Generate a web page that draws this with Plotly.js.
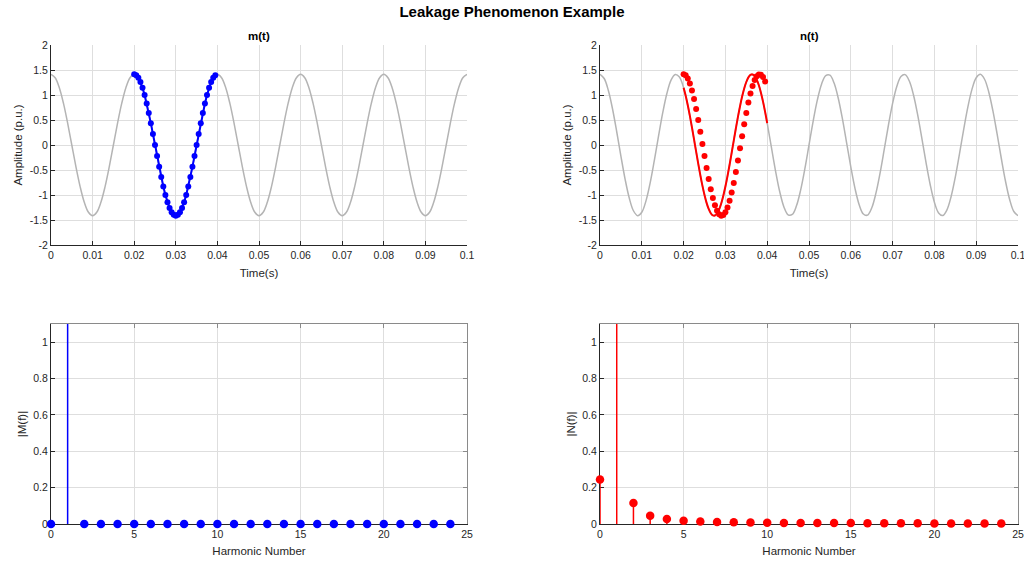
<!DOCTYPE html>
<html>
<head>
<meta charset="utf-8">
<script src="https://cdn.plot.ly/plotly-3.0.1.min.js"></script>
<style>html,body{margin:0;padding:0;background:#fff;}#chart{width:1024px;height:562px;}</style>
</head>
<body>
<div id="chart"></div>
<script>
// ---- Time axes (s) ----
const tGrid = [0,0.001,0.002,0.003,0.004,0.005,0.006,0.007,0.008,0.009,0.010,0.011,0.012,0.013,0.014,0.015,0.016,0.017,0.018,0.019,
0.020,0.021,0.022,0.023,0.024,0.025,0.026,0.027,0.028,0.029,0.030,0.031,0.032,0.033,0.034,0.035,0.036,0.037,0.038,0.039,
0.040,0.041,0.042,0.043,0.044,0.045,0.046,0.047,0.048,0.049,0.050,0.051,0.052,0.053,0.054,0.055,0.056,0.057,0.058,0.059,
0.060,0.061,0.062,0.063,0.064,0.065,0.066,0.067,0.068,0.069,0.070,0.071,0.072,0.073,0.074,0.075,0.076,0.077,0.078,0.079,
0.080,0.081,0.082,0.083,0.084,0.085,0.086,0.087,0.088,0.089,0.090,0.091,0.092,0.093,0.094,0.095,0.096,0.097,0.098,0.099,0.100];

// m(t) background signal (gray)
const mFull = [1.414,1.345,1.144,0.831,0.437,0,-0.437,-0.831,-1.144,-1.345,-1.414,-1.345,-1.144,-0.831,-0.437,0,0.437,0.831,1.144,1.345,
1.414,1.345,1.144,0.831,0.437,0,-0.437,-0.831,-1.144,-1.345,-1.414,-1.345,-1.144,-0.831,-0.437,0,0.437,0.831,1.144,1.345,
1.414,1.345,1.144,0.831,0.437,0,-0.437,-0.831,-1.144,-1.345,-1.414,-1.345,-1.144,-0.831,-0.437,0,0.437,0.831,1.144,1.345,
1.414,1.345,1.144,0.831,0.437,0,-0.437,-0.831,-1.144,-1.345,-1.414,-1.345,-1.144,-0.831,-0.437,0,0.437,0.831,1.144,1.345,
1.414,1.345,1.144,0.831,0.437,0,-0.437,-0.831,-1.144,-1.345,-1.414,-1.345,-1.144,-0.831,-0.437,0,0.437,0.831,1.144,1.345,1.414];

// n(t) background signal (gray)
const nFull = [1.414,1.330,1.090,0.720,0.265,-0.221,-0.681,-1.061,-1.315,-1.413,-1.345,-1.117,-0.758,-0.308,0.177,0.642,1.031,1.298,1.411,1.358,
1.144,0.795,0.352,-0.133,-0.602,-1.000,-1.279,-1.408,-1.370,-1.170,-0.831,-0.395,0.089,0.562,0.968,1.260,1.403,1.380,1.194,0.867,
0.437,-0.044,-0.521,-0.935,-1.239,-1.397,-1.389,-1.217,-0.901,-0.479,0,0.479,0.901,1.217,1.389,1.397,1.239,0.935,0.521,0.044,
-0.437,-0.867,-1.194,-1.380,-1.403,-1.260,-0.968,-0.562,-0.089,0.395,0.831,1.170,1.370,1.408,1.279,1.000,0.602,0.133,-0.352,-0.795,
-1.144,-1.358,-1.411,-1.298,-1.031,-0.642,-0.177,0.308,0.758,1.117,1.345,1.413,1.315,1.061,0.681,0.221,-0.265,-0.720,-1.090,-1.330,-1.414];

// window samples
const tWin = [0.0200,0.0205,0.0210,0.0215,0.0220,0.0225,0.0230,0.0235,0.0240,0.0245,0.0250,0.0255,0.0260,0.0265,0.0270,0.0275,0.0280,0.0285,0.0290,0.0295,
0.0300,0.0305,0.0310,0.0315,0.0320,0.0325,0.0330,0.0335,0.0340,0.0345,0.0350,0.0355,0.0360,0.0365,0.0370,0.0375,0.0380,0.0385,0.0390,0.0395];
const mWin = [1.414,1.397,1.345,1.260,1.144,1.000,0.831,0.642,0.437,0.221,0,-0.221,-0.437,-0.642,-0.831,-1.000,-1.144,-1.260,-1.345,-1.397,
-1.414,-1.397,-1.345,-1.260,-1.144,-1.000,-0.831,-0.642,-0.437,-0.221,0,0.221,0.437,0.642,0.831,1.000,1.144,1.260,1.345,1.397];
const nWinDots = [1.414,1.393,1.330,1.228,1.090,0.918,0.720,0.500,0.265,0.022,-0.221,-0.458,-0.681,-0.884,-1.061,-1.206,-1.315,-1.385,-1.413,-1.400,
-1.345,-1.250,-1.117,-0.952,-0.758,-0.541,-0.308,-0.067,0.177,0.416,0.642,0.849,1.031,1.182,1.298,1.375,1.411,1.405,1.358,1.270];
const tWinLine = [0.0200,0.0205,0.0210,0.0215,0.0220,0.0225,0.0230,0.0235,0.0240,0.0245,0.0250,0.0255,0.0260,0.0265,0.0270,0.0275,0.0280,0.0285,0.0290,0.0295,
0.0300,0.0305,0.0310,0.0315,0.0320,0.0325,0.0330,0.0335,0.0340,0.0345,0.0350,0.0355,0.0360,0.0365,0.0370,0.0375,0.0380,0.0385,0.0390,0.0395,0.0400];
const nWinLine = [1.144,0.984,0.795,0.582,0.352,0.111,-0.133,-0.373,-0.602,-0.813,-1.000,-1.157,-1.279,-1.364,-1.408,-1.410,-1.370,-1.289,-1.170,-1.015,
-0.831,-0.622,-0.395,-0.155,0.089,0.330,0.562,0.776,0.968,1.131,1.260,1.352,1.403,1.412,1.380,1.306,1.194,1.046,0.867,0.662,0.437];

// spectra
const harmonics = [0,1,2,3,4,5,6,7,8,9,10,11,12,13,14,15,16,17,18,19,20,21,22,23,24];
const magM = [0,1.414,0,0,0,0,0,0,0,0,0,0,0,0,0,0,0,0,0,0,0,0,0,0,0];
const magN = [0.245,1.35,0.115,0.045,0.027,0.018,0.014,0.011,0.009,0.008,0.007,0.006,0.006,0.005,0.005,0.005,0.004,0.004,0.004,0.004,0.003,0.003,0.003,0.003,0.003];

// tick labels
const timeTicks = [0,0.01,0.02,0.03,0.04,0.05,0.06,0.07,0.08,0.09,0.1];
const timeTickText = ["0","0.01","0.02","0.03","0.04","0.05","0.06","0.07","0.08","0.09","0.1"];
const ampTicks = [-2,-1.5,-1,-0.5,0,0.5,1,1.5,2];
const ampTickText = ["-2","-1.5","-1","-0.5","0","0.5","1","1.5","2"];
const magTicks = [0,0.2,0.4,0.6,0.8,1];
const magTickText = ["0","0.2","0.4","0.6","0.8","1"];
const harmTicks = [0,5,10,15,20,25];

const MAG_MAX = 1.1;

function stems(h, v){
  const xs=[], ys=[];
  for(let i=0;i<h.length;i++){ xs.push(h[i],h[i],null); ys.push(0,v[i],null); }
  return {xs, ys};
}
function inRange(h, v){
  const xs=[], ys=[];
  for(let i=0;i<h.length;i++){ if(v[i] <= MAG_MAX){ xs.push(h[i]); ys.push(v[i]); } }
  return {xs, ys};
}
const sM = stems(harmonics, magM), sN = stems(harmonics, magN);
const pM = inRange(harmonics, magM), pN = inRange(harmonics, magN);

const GRAY = '#b4b4b4', BLUE = '#0000ff', RED = '#ff0000';
const FONT = 'Liberation Sans, Arial, Helvetica, sans-serif';
const TXT = '#262626';

const traces = [
  {x:tGrid, y:mFull, xaxis:'x', yaxis:'y', mode:'lines', line:{color:GRAY, width:1.5, shape:'spline'}, showlegend:false, hoverinfo:'skip'},
  {x:tWin, y:mWin, xaxis:'x', yaxis:'y', mode:'lines+markers', line:{color:BLUE, width:2}, marker:{color:BLUE, size:6}, showlegend:false},
  {x:tGrid, y:nFull, xaxis:'x2', yaxis:'y2', mode:'lines', line:{color:GRAY, width:1.5, shape:'spline'}, showlegend:false, hoverinfo:'skip'},
  {x:tWinLine, y:nWinLine, xaxis:'x2', yaxis:'y2', mode:'lines', line:{color:RED, width:2, shape:'spline'}, showlegend:false},
  {x:tWin, y:nWinDots, xaxis:'x2', yaxis:'y2', mode:'markers', marker:{color:RED, size:6}, showlegend:false},
  {x:sM.xs, y:sM.ys, xaxis:'x3', yaxis:'y3', mode:'lines', line:{color:BLUE, width:1.5}, showlegend:false, hoverinfo:'skip'},
  {x:pM.xs, y:pM.ys, xaxis:'x3', yaxis:'y3', mode:'markers', marker:{color:BLUE, size:8.5}, cliponaxis:false, showlegend:false},
  {x:sN.xs, y:sN.ys, xaxis:'x4', yaxis:'y4', mode:'lines', line:{color:RED, width:1.5}, showlegend:false, hoverinfo:'skip'},
  {x:pN.xs, y:pN.ys, xaxis:'x4', yaxis:'y4', mode:'markers', marker:{color:RED, size:8.5}, cliponaxis:false, showlegend:false},
  {x:[], y:[], xaxis:'x5', yaxis:'y5', mode:'markers', showlegend:false},
  {x:[], y:[], xaxis:'x6', yaxis:'y6', mode:'markers', showlegend:false}
];

const W=1024, H=562;
const dxL=[51/W,467/W], dxR=[600/W,1018/W];
const dyT=[1-245/H,1-45/H], dyB=[1-524/H,1-324/H];

const tickFont = {family:FONT, size:10.5, color:TXT};
const titleFont = {family:FONT, size:11.5, color:TXT};

function tAxis(domain, anchor){
  return {domain, anchor, range:[0,0.1], tickvals:timeTicks, ticktext:timeTickText, showgrid:true, gridcolor:'#dedede', gridwidth:1,
    zeroline:false, showline:true, linecolor:TXT, linewidth:1, ticks:'inside', ticklen:4, tickcolor:TXT, ticklabeloverflow:'allow',
    tickfont:tickFont, title:{text:'Time(s)', font:titleFont, standoff:9}};
}
function aAxis(domain, anchor){
  return {domain, anchor, range:[-2,2], tickvals:ampTicks, ticktext:ampTickText, showgrid:true, gridcolor:'#dedede',
    zeroline:false, showline:true, linecolor:TXT, linewidth:1, ticks:'inside', ticklen:4, tickcolor:TXT,
    tickfont:tickFont, title:{text:'Amplitude (p.u.)', font:titleFont, standoff:4}};
}
function hAxis(domain, anchor){
  return {domain, anchor, range:[0,25], tickvals:harmTicks, showgrid:true, gridcolor:'#dedede',
    zeroline:false, showline:true, linecolor:TXT, linewidth:1, ticks:'inside', ticklen:4, tickcolor:TXT, layer:'below traces', ticklabeloverflow:'allow',
    tickfont:tickFont, title:{text:'Harmonic Number', font:titleFont, standoff:8}};
}
function fAxis(domain, anchor, label){
  return {domain, anchor, range:[0,MAG_MAX], tickvals:magTicks, ticktext:magTickText, showgrid:true, gridcolor:'#dedede',
    zeroline:false, showline:true, linecolor:TXT, linewidth:1, ticks:'inside', ticklen:4, tickcolor:TXT, layer:'below traces',
    tickfont:tickFont, title:{text:label, font:titleFont, standoff:4}};
}
function boxX(over, anchor){
  return {overlaying:over, anchor, side:'top', range:[0,25], tickvals:harmTicks, showgrid:false, zeroline:false,
    showline:true, linecolor:'#8a8a8a', linewidth:1, ticks:'inside', ticklen:4, tickcolor:'#8a8a8a', showticklabels:false};
}
function boxY(over, anchor){
  return {overlaying:over, anchor, side:'right', range:[0,MAG_MAX], tickvals:magTicks, showgrid:false, zeroline:false,
    showline:true, linecolor:'#8a8a8a', linewidth:1, ticks:'inside', ticklen:4, tickcolor:'#8a8a8a', showticklabels:false};
}

const layout = {
  width:W, height:H, margin:{l:0,r:0,t:0,b:0}, paper_bgcolor:'#ffffff', plot_bgcolor:'#ffffff',
  font:{family:FONT, color:TXT},
  showlegend:false,
  title:{text:'<b>Leakage Phenomenon Example</b>', x:0.5, xanchor:'center', y:1-12/H, yanchor:'middle', font:{family:FONT, size:15, color:'#000000'}},
  xaxis:tAxis(dxL,'y'), yaxis:aAxis(dyT,'x'),
  xaxis2:tAxis(dxR,'y2'), yaxis2:aAxis(dyT,'x2'),
  xaxis3:hAxis(dxL,'y3'), yaxis3:fAxis(dyB,'x3','|M(f)|'),
  xaxis4:hAxis(dxR,'y4'), yaxis4:fAxis(dyB,'x4','|N(f)|'),
  xaxis5:boxX('x3','y5'), yaxis5:boxY('y3','x5'),
  xaxis6:boxX('x4','y6'), yaxis6:boxY('y4','x6'),
  annotations:[
    {text:'<b>m(t)</b>', xref:'paper', yref:'paper', x:(dxL[0]+dxL[1])/2, y:1-36/H, xanchor:'center', yanchor:'middle', showarrow:false, font:{family:FONT, size:11.5, color:'#000000'}},
    {text:'<b>n(t)</b>', xref:'paper', yref:'paper', x:(dxR[0]+dxR[1])/2, y:1-36/H, xanchor:'center', yanchor:'middle', showarrow:false, font:{family:FONT, size:11.5, color:'#000000'}}
  ]
};

Plotly.newPlot('chart', traces, layout, {displayModeBar:false, staticPlot:true});
</script>
</body>
</html>
